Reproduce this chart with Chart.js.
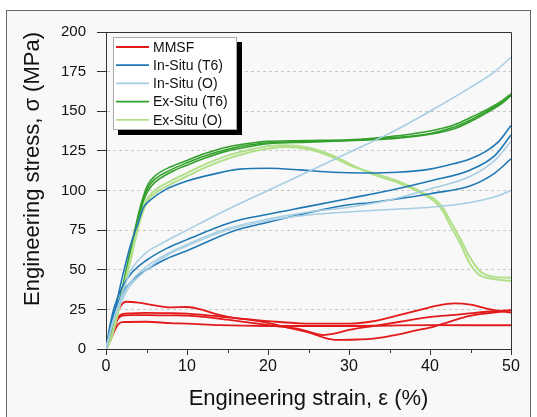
<!DOCTYPE html>
<html><head><meta charset="utf-8">
<script src="https://cdn.jsdelivr.net/npm/chart.js@4/dist/chart.umd.min.js"></script>
<style>
html,body{margin:0;padding:0;background:#fff;}
#wrap{position:relative;width:537px;height:417px;overflow:hidden;}
#frame{position:absolute;left:6px;top:10px;width:525px;height:430px;border:1px solid #666;background:#f8f8f8;box-sizing:border-box;}
#c{position:absolute;left:0;top:0;}
</style></head><body>
<div id="wrap"><div id="frame"></div><canvas id="c" width="537" height="417"></canvas></div>
<script>
// ---- data (strain %, stress MPa) ----
const seriesNames = ['MMSF', 'In-Situ (T6)', 'In-Situ (O)', 'Ex-Situ (T6)', 'Ex-Situ (O)'];
const xTicks = [0, 10, 20, 30, 40, 50];
const yTicks = [0, 25, 50, 75, 100, 125, 150, 175, 200];

// MMSF
const mmsf1Strain = [0,0.5,1,1.5,2,2.5,4,6,8,10,12,14,16,18,20,22,25,27,28.5,31,33,36,38,40.4,42,44.5,47,50];
const mmsf1Stress = [0,7,16,24,28.5,29.8,29.2,27.5,26.3,26.5,24.5,21.5,19.5,18.3,16.5,14,10.5,7,5.7,6,6.5,9,11.5,14,16.5,20.4,22.5,24.2];
const mmsf2Strain = [0,0.5,1,1.5,2,3,5,8,10,12,15,18,21,24,27,30,33,36.3,39,41,43,45,47,48.5,50];
const mmsf2Stress = [0,6,14,20,22,22.5,22.8,22.6,22.3,21.5,20,18.5,17.2,16.2,16,16,17.5,21.5,25,27.5,28.8,28,25.5,24,23];
const mmsf3Strain = [0,0.5,1,1.5,2,3,5,8,10,12,15,18,21,24,26.8,28,30,33,36.3,40.4,44,47,50];
const mmsf3Stress = [0,5,13,19,21,21.4,21.4,21.2,21,20.3,18.5,16.5,14.5,12.4,8.8,9.5,12,14.5,17.2,20.4,22,23.5,24.5];
const mmsf4Strain = [0,0.5,1,1.5,2,5,8,10,14,20,25,30,35,40,45,50];
const mmsf4Stress = [0,5,11,15.5,17,17.2,16.3,16,15,14.5,14.5,14.5,14.8,15,15,15];

// In-Situ (T6)
const isT6aStrain = [0,1,2,3,4,4.6,5.5,7.5,10,13,16.5,20,24,28,32,36,40,43,45,47,48.5,50];
const isT6aStress = [0,22,45,65,80,89,94,101,106,110,113.5,114,113,111.5,111,111.5,113.5,117,120,125,131,141];
const isT6bStrain = [0,0.5,1,2,3,5,7.5,10,15.5,20,25,30,35,40,45,48,50];
const isT6bStress = [0,15,26,39,47,56,63.5,69,80,85,90,95,100,106,113,122,135];
const isT6cStrain = [0,0.5,1,2,3,5,7.5,10,15.5,20,25,30,32.6,35,40,45,48,50];
const isT6cStress = [0,13,23,35,42,50,57,62,74,80,86,91,92.3,94,98,103,111,120];

// In-Situ (O)
const isOaStrain = [0,0.5,1,2,3,4,5,7,10,15,20,25,30,35,40,45,48,50];
const isOaStress = [0,10,19,35,49,56,61,67,75,88,100,112,124,136,150,165,175,184];
const isObStrain = [0,0.5,1,2,3,5,7.5,10,15,20,25,30,35,40,45,48,50];
const isObStress = [0,11,20,33,42,52,60,66,76,82,86.5,89.5,94,101,109,119,131];
const isOcStrain = [0,0.5,1,2,3,5,7.5,10,15,20,25,30,35,40,45,48,50];
const isOcStress = [0,10,19,31,40,50,59,65,75,81,84.5,86.5,88,89.5,92.5,96,100];

// Ex-Situ (T6)
const exT6Strain = [0,0.5,1,2,3,4,4.6,5.2,6,8,10,12,15,18,20,25,30,33,36,40,43,45,47,49,50];
const exT6aStress = [0,6,16,38,62,85,96,104,109,115,119,123,127.5,130,131,131.5,132,133,134.5,137.5,141.5,146,151,157,161];
const exT6bStress = [0,6,15,37,60,83,95,102,107,113,117.5,121.5,126,129,130,131,131.5,132.5,133.5,136,140,144.5,150,156,160];
const exT6cStress = [0,5,14,35,58,81,93,100,105,111.5,116,120,125,128,129.5,130.5,131.5,132,133,135.5,139,143.5,149,155.5,160];

// Ex-Situ (O)
const exOStrain = [0,0.5,1,2,3,4,5,6,8,10,12,15,18,20,22,25,28,30,33,36,39,40.8,41.6,42.5,43.7,44.9,46,46.6,48,50];
const exOaStress = [0,5,14,35,57,79,94,100,106,111,116,122,126,128,128.5,127,122,117,110,105,98,92,87,78,67,54,47,45.5,44,43];
const exObStress = [0,5,13,34,55,77,92,98,104,109,114,120,124.5,126.5,127.5,126,121,116,111,106,99,93.5,89,81,70,58,50,47.5,45.5,45];

// ---- styles ----
const groupColors = ['#e31a1c', '#1f78b4', '#a6cee3', '#33a02c', '#b2df8a'];
const groupWidths = [1.8, 1.6, 1.5, 1.6, 2];
const FONT = '"Liberation Sans", Arial, sans-serif';

const curves = [
  [2, isOaStrain, isOaStress], [2, isObStrain, isObStress], [2, isOcStrain, isOcStress],
  [1, isT6aStrain, isT6aStress], [1, isT6bStrain, isT6bStress], [1, isT6cStrain, isT6cStress],
  [4, exOStrain, exOaStress], [4, exOStrain, exObStress],
  [3, exT6Strain, exT6aStress], [3, exT6Strain, exT6bStress], [3, exT6Strain, exT6cStress],
  [0, mmsf1Strain, mmsf1Stress], [0, mmsf2Strain, mmsf2Stress], [0, mmsf3Strain, mmsf3Stress], [0, mmsf4Strain, mmsf4Stress]
];

const datasets = curves.map(([g, xs, ys]) => ({
  label: seriesNames[g],
  data: xs.map((x, i) => ({x: x, y: ys[i]})),
  borderColor: groupColors[g],
  borderWidth: groupWidths[g],
  showLine: true,
  pointRadius: 0,
  cubicInterpolationMode: 'monotone',
  fill: false
}));

const decor = {
  id: 'decor',
  afterDraw(chart) {
    const {ctx, chartArea: a, scales} = chart;
    ctx.save();
    // frame top/right
    ctx.strokeStyle = '#333'; ctx.lineWidth = 1;
    ctx.beginPath();
    ctx.moveTo(a.left, a.top + 0.5); ctx.lineTo(a.right + 0.5, a.top + 0.5); ctx.lineTo(a.right + 0.5, a.bottom);
    ctx.stroke();
    // minor x ticks
    const xs = scales.x;
    ctx.beginPath();
    for (let i = 0; i < xTicks.length - 1; i++) {
      const v = (xTicks[i] + xTicks[i + 1]) / 2;
      const px = Math.round(xs.getPixelForValue(v)) + 0.5;
      ctx.moveTo(px, a.bottom); ctx.lineTo(px, a.bottom + 4);
    }
    ctx.stroke();
    // legend
    const x0 = a.left + 7, y0 = a.top + 5, w = 124, h = 93;
    ctx.fillStyle = '#000';
    ctx.fillRect(x0 + 5, y0 + 5, w, h);
    ctx.fillStyle = '#fff';
    ctx.fillRect(x0, y0, w, h);
    ctx.strokeStyle = '#aaa';
    ctx.strokeRect(x0 + 0.5, y0 + 0.5, w - 1, h - 1);
    ctx.font = '14px ' + FONT;
    ctx.textBaseline = 'middle';
    ctx.textAlign = 'left';
    seriesNames.forEach((n, i) => {
      const y = y0 + 10 + i * 18.2;
      ctx.strokeStyle = groupColors[i];
      ctx.lineWidth = 1.8;
      ctx.beginPath(); ctx.moveTo(x0 + 3, y); ctx.lineTo(x0 + 36, y); ctx.stroke();
      ctx.fillStyle = '#111';
      ctx.fillText(n, x0 + 40, y + 1);
    });
    ctx.restore();
  }
};

new Chart(document.getElementById('c'), {
  type: 'scatter',
  data: {datasets},
  plugins: [decor],
  options: {
    responsive: false,
    animation: false,
    layout: {padding: {left: 0, right: 26, top: 32, bottom: 0}},
    plugins: {legend: {display: false}, tooltip: {enabled: false}},
    scales: {
      x: {
        type: 'linear', min: 0, max: 50,
        afterBuildTicks: s => { s.ticks = xTicks.map(v => ({value: v})); },
        afterFit: s => { s.height = 68; },
        grid: {drawOnChartArea: false, tickLength: 6, tickColor: '#333', tickBorderDash: []},
        border: {color: '#333', width: 1},
        ticks: {color: '#111', font: {family: FONT, size: 16}, padding: 2, maxRotation: 0},
        title: {display: true, text: 'Engineering strain, ε (%)', color: '#111', font: {family: FONT, size: 22}, padding: {top: 0, bottom: 5}}
      },
      y: {
        type: 'linear', min: 0, max: 200,
        afterBuildTicks: s => { s.ticks = yTicks.map(v => ({value: v})); },
        afterFit: s => { s.width = 106; },
        grid: {
          color: c => (c.tick && c.tick.value > 0 && c.tick.value < 200) ? '#c8c8c8' : 'rgba(0,0,0,0)',
          tickColor: '#333', tickLength: 9, tickBorderDash: [], lineWidth: 1
        },
        border: {color: '#333', width: 1, dash: [3, 3]},
        ticks: {color: '#111', font: {family: FONT, size: 15}, padding: 11},
        title: {display: true, text: 'Engineering stress, σ (MPa)', align: 'end', color: '#111', font: {family: FONT, size: 22}, padding: {top: 20, bottom: 0}}
      }
    }
  }
});
</script>
</body></html>
